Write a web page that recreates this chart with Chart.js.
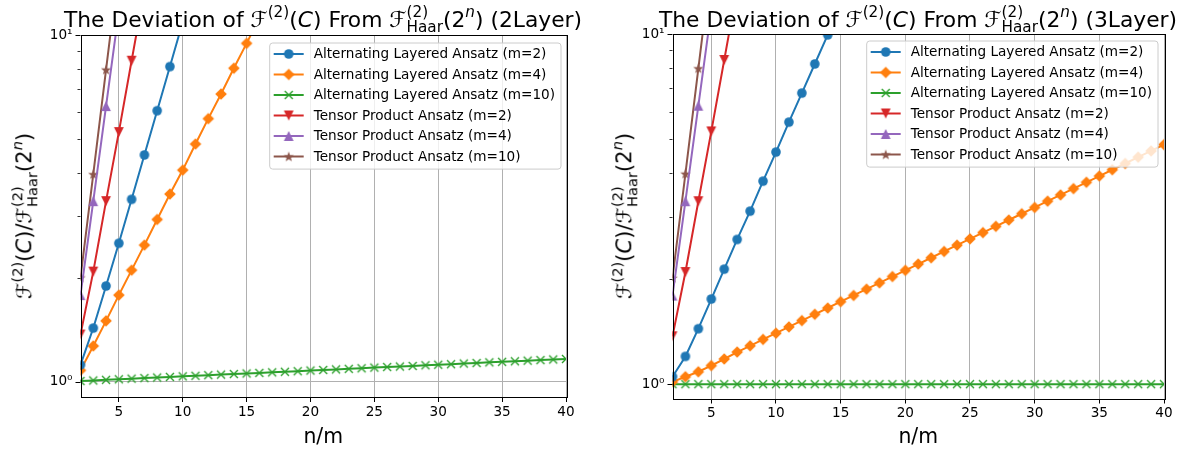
<!DOCTYPE html>
<html>
<head>
<meta charset="utf-8">
<script src="https://cdn.jsdelivr.net/npm/chart.js@4.4.1/dist/chart.umd.min.js"></script>
<style>
  html, body { margin:0; padding:0; background:#fff; }
  body { width:1193px; height:455px; position:relative; overflow:hidden; font-family:"DejaVu Sans", sans-serif; color:#000; }
  canvas { position:absolute; top:0; }
  .ttl { position:absolute; top:5px; transform:translateX(-50%); font-size:21.8px; line-height:24px; white-space:nowrap; }
  .ylab { position:absolute; transform:translate(-50%,-50%) rotate(-90deg); font-size:21px; line-height:24px; white-space:nowrap; }
  .sp { font-size:0.7em; position:relative; top:-0.64em; }
  .st { display:inline-flex; flex-direction:column; font-size:0.7em; line-height:1; vertical-align:0.64em; }
  i { font-style:oblique; }
</style>
</head>
<body>
<canvas id="c1" width="596" height="455" style="left:0px;width:596px;height:455px"></canvas>
<canvas id="c2" width="596" height="455" style="left:597px;width:596px;height:455px"></canvas>

<div class="ttl" style="left:323px">The Deviation of ℱ<span class="sp">(2)</span>(<i>C</i>) From ℱ<span class="st"><span>(2)</span><span>Haar</span></span>(2<span class="sp"><i>n</i></span>) (2Layer)</div>
<div class="ttl" style="left:918px">The Deviation of ℱ<span class="sp">(2)</span>(<i>C</i>) From ℱ<span class="st"><span>(2)</span><span>Haar</span></span>(2<span class="sp"><i>n</i></span>) (3Layer)</div>

<div class="ylab" style="left:25px;top:216px">ℱ<span class="sp">(2)</span>(<i>C</i>)/ℱ<span class="st"><span>(2)</span><span>Haar</span></span>(2<span class="sp"><i>n</i></span>)</div>
<div class="ylab" style="left:625px;top:216px">ℱ<span class="sp">(2)</span>(<i>C</i>)/ℱ<span class="st"><span>(2)</span><span>Haar</span></span>(2<span class="sp"><i>n</i></span>)</div>

<script>
// ---------------- data ----------------
const nValues = [2,3,4,5,6,7,8,9,10,11,12,13,14,15,16,17,18,19,20,21,22,23,24,25,26,27,28,29,30,31,32,33,34,35,36,37,38,39,40];
const xTickValues = [5,10,15,20,25,30,35,40];
const yTickValues = [1,2,3,4,5,6,7,8,9,10];
const yTickLabels = { 1: "10⁰", 10: "10¹" };
const xAxisTitle = "n/m";

const seriesLabels = [
  "Alternating Layered Ansatz (m=2)",
  "Alternating Layered Ansatz (m=4)",
  "Alternating Layered Ansatz (m=10)",
  "Tensor Product Ansatz (m=2)",
  "Tensor Product Ansatz (m=4)",
  "Tensor Product Ansatz (m=10)"
];

// 2 Layer
const alt2L_m2  = [1.12, 1.43, 1.89, 2.51, 3.36, 4.51, 6.05, 8.11, 10.9];
const alt2L_m4  = [1.08, 1.27, 1.50, 1.78, 2.10, 2.48, 2.94, 3.48, 4.08, 4.85, 5.74, 6.76, 8.02, 9.46, 11.2];
const alt2L_m10 = [1.006, 1.010, 1.014, 1.018, 1.022, 1.026, 1.030, 1.034, 1.038, 1.042, 1.046, 1.050, 1.054,
                   1.058, 1.062, 1.066, 1.070, 1.074, 1.079, 1.083, 1.087, 1.091, 1.095, 1.100, 1.104, 1.108,
                   1.112, 1.117, 1.121, 1.125, 1.130, 1.134, 1.139, 1.143, 1.147, 1.152, 1.156, 1.161, 1.165];
const tp2L_m2   = [1.37, 2.08, 3.32, 5.25, 8.43, 13.5];
const tp2L_m4   = [1.78, 3.32, 6.24, 11.7];
const tp2L_m10  = [2.00, 3.97, 7.95, 15.8];

// 3 Layer
const alt3L_m2  = [1.05, 1.20, 1.44, 1.75, 2.13, 2.59, 3.12, 3.80, 4.60, 5.60, 6.78, 8.21, 9.94, 12.0];
const alt3L_m4  = [1.015, 1.050, 1.085, 1.130, 1.180, 1.235, 1.287, 1.342, 1.398, 1.457, 1.519, 1.583, 1.650,
                   1.720, 1.792, 1.868, 1.947, 2.029, 2.114, 2.203, 2.296, 2.393, 2.494, 2.600, 2.709, 2.823,
                   2.943, 3.067, 3.196, 3.331, 3.471, 3.618, 3.771, 3.930, 4.096, 4.268, 4.449, 4.636, 4.832];
const alt3L_m10 = [1.000, 1.000, 1.000, 1.000, 1.000, 1.000, 1.000, 1.000, 1.000, 1.000, 1.000, 1.000, 1.000,
                   1.000, 1.000, 1.000, 1.000, 1.000, 1.000, 1.000, 1.000, 1.000, 1.000, 1.000, 1.000, 1.000,
                   1.000, 1.000, 1.000, 1.000, 1.000, 1.000, 1.000, 1.000, 1.000, 1.000, 1.000, 1.000, 1.000];
const tp3L_m2   = [1.37, 2.09, 3.33, 5.27, 8.43, 13.5];
const tp3L_m4   = [1.79, 3.33, 6.24, 11.7];
const tp3L_m10  = [2.01, 3.99, 7.98, 15.9];

// ---------------- styling ----------------
const colors = ["#1f77b4", "#ff7f0e", "#2ca02c", "#d62728", "#9467bd", "#8c564b"];
const markerTypes = ["circle", "diamond", "x", "tri_down", "tri_up", "star"];
const FONT = "DejaVu Sans";

function makeMarker(type, color) {
  const s = 16, c = s / 2;
  const cv = document.createElement("canvas");
  cv.width = s; cv.height = s;
  const g = cv.getContext("2d");
  g.fillStyle = color; g.strokeStyle = color; g.lineWidth = 1;
  g.beginPath();
  if (type === "circle") {
    g.arc(c, c, 4.8, 0, Math.PI * 2);
    g.fill();
  } else if (type === "diamond") {
    const r = 5.8;
    g.moveTo(c, c - r); g.lineTo(c + r, c); g.lineTo(c, c + r); g.lineTo(c - r, c); g.closePath();
    g.fill();
  } else if (type === "x") {
    const r = 4;
    g.lineWidth = 1.4;
    g.moveTo(c - r, c - r); g.lineTo(c + r, c + r);
    g.moveTo(c + r, c - r); g.lineTo(c - r, c + r);
    g.stroke();
  } else if (type === "tri_down") {
    const r = 4.9;
    g.moveTo(c - r, c - r); g.lineTo(c + r, c - r); g.lineTo(c, c + r); g.closePath();
    g.fill();
  } else if (type === "tri_up") {
    const r = 4.9;
    g.moveTo(c - r, c + r); g.lineTo(c + r, c + r); g.lineTo(c, c - r); g.closePath();
    g.fill();
  } else if (type === "star") {
    const R = 5.4, r0 = 2.2;
    for (let k = 0; k < 10; k++) {
      const ang = -Math.PI / 2 + k * Math.PI / 5;
      const rr = (k % 2 === 0) ? R : r0;
      const px = c + rr * Math.cos(ang), py = c + 0.5 + rr * Math.sin(ang);
      if (k === 0) g.moveTo(px, py); else g.lineTo(px, py);
    }
    g.closePath();
    g.fill();
  }
  return cv;
}
const markers = markerTypes.map((t, k) => makeMarker(t, colors[k]));

const framePlugin = {
  id: "frame",
  afterDatasetsDraw(chart) {
    const { ctx, chartArea: a, scales } = chart;
    ctx.save();
    ctx.strokeStyle = "#000";
    for (const v of yTickValues) {
      const py = Math.round(scales.y.getPixelForValue(v)) + 0.5;
      const major = (v === 1 || v === 10);
      ctx.lineWidth = major ? 1 : 0.8;
      const len = major ? 5 : 3;
      ctx.beginPath(); ctx.moveTo(a.left - len, py); ctx.lineTo(a.left, py); ctx.stroke();
    }
    ctx.lineWidth = 1;
    ctx.strokeStyle = "#000";
    ctx.strokeRect(Math.round(a.left) + 0.5, Math.round(a.top) + 0.5, Math.round(a.right - a.left), Math.round(a.bottom - a.top));
    ctx.restore();
  }
};

const legendPlugin = {
  id: "boxLegend",
  afterDraw(chart, args, opts) {
    const { ctx, chartArea: a } = chart;
    ctx.save();
    ctx.font = "13.6px '" + FONT + "'";
    let maxW = 0;
    chart.data.datasets.forEach(d => { maxW = Math.max(maxW, ctx.measureText(d.label).width); });
    const rowH = 20.5;
    const w = 44 + maxW + 6;
    const h = 11 + rowH * (chart.data.datasets.length - 1) + 12.6;
    const x0 = a.right - opts.right - w;
    const y0 = a.top + opts.top;
    const rad = 3;
    ctx.beginPath();
    ctx.moveTo(x0 + rad, y0);
    ctx.lineTo(x0 + w - rad, y0); ctx.quadraticCurveTo(x0 + w, y0, x0 + w, y0 + rad);
    ctx.lineTo(x0 + w, y0 + h - rad); ctx.quadraticCurveTo(x0 + w, y0 + h, x0 + w - rad, y0 + h);
    ctx.lineTo(x0 + rad, y0 + h); ctx.quadraticCurveTo(x0, y0 + h, x0, y0 + h - rad);
    ctx.lineTo(x0, y0 + rad); ctx.quadraticCurveTo(x0, y0, x0 + rad, y0);
    ctx.closePath();
    ctx.fillStyle = "rgba(255,255,255,0.8)";
    ctx.fill();
    ctx.strokeStyle = "#cccccc"; ctx.lineWidth = 1;
    ctx.stroke();
    chart.data.datasets.forEach((d, k) => {
      const cy = y0 + 11 + k * rowH;
      ctx.strokeStyle = d.borderColor; ctx.lineWidth = 2;
      ctx.beginPath(); ctx.moveTo(x0 + 4, cy); ctx.lineTo(x0 + 34, cy); ctx.stroke();
      const m = d.pointStyle;
      ctx.drawImage(m, x0 + 19 - m.width / 2, cy - m.height / 2);
      ctx.fillStyle = "#000";
      ctx.textBaseline = "middle";
      ctx.textAlign = "left";
      ctx.fillText(d.label, x0 + 44, cy + 0.5);
    });
    ctx.restore();
  }
};

function buildChart(id, series, cfg) {
  const datasets = series.map((vals, k) => ({
    label: seriesLabels[k],
    data: vals.map((v, i) => ({ x: nValues[i], y: v })),
    borderColor: colors[k],
    backgroundColor: colors[k],
    borderWidth: 2,
    pointStyle: markers[k],
    pointRadius: 5,
    pointHoverRadius: 5,
    tension: 0,
    fill: false,
    clip: 0
  }));
  return new Chart(document.getElementById(id), {
    type: "line",
    data: { datasets },
    options: {
      responsive: false,
      animation: false,
      events: [],
      layout: { padding: { left: 0, right: cfg.padRight, top: cfg.padTop, bottom: 0 } },
      plugins: {
        legend: { display: false },
        title: { display: false },
        tooltip: { enabled: false },
        boxLegend: { right: cfg.legRight, top: cfg.legTop }
      },
      scales: {
        x: {
          type: "linear", min: 2, max: 40,
          afterBuildTicks: ax => { ax.ticks = xTickValues.map(v => ({ value: v })); },
          afterFit: s => { s.height = cfg.xH; },
          grid: { color: "#b0b0b0", lineWidth: 1, drawTicks: true, tickLength: 5, tickColor: "#000", tickWidth: 1 },
          border: { display: false },
          ticks: { font: { family: FONT, size: 13.6 }, color: "#000", padding: 2, maxRotation: 0, autoSkip: false },
          title: { display: true, text: xAxisTitle, font: { family: FONT, size: 20.4 }, color: "#000", padding: { top: 0, bottom: 5 } }
        },
        y: {
          type: "logarithmic", min: cfg.yMin, max: 10,
          afterBuildTicks: ax => { ax.ticks = yTickValues.map(v => ({ value: v })); },
          afterFit: s => { s.width = cfg.yW; },
          grid: { color: c => (c.tick && c.tick.value === 1) ? "#b0b0b0" : "rgba(0,0,0,0)", lineWidth: 1, drawTicks: false },
          border: { display: false },
          ticks: {
            callback: v => (yTickLabels[v] !== undefined ? yTickLabels[v] : ""),
            font: { family: FONT, size: 13.6 }, color: "#000", padding: 8, autoSkip: false
          }
        }
      }
    },
    plugins: [framePlugin, legendPlugin]
  });
}

buildChart("c1", [alt2L_m2, alt2L_m4, alt2L_m10, tp2L_m2, tp2L_m4, tp2L_m10],
  { padRight: 30, padTop: 35, xH: 58, yW: 80.5, yMin: 0.905, legRight: 5, legTop: 8 });
buildChart("c2", [alt3L_m2, alt3L_m4, alt3L_m10, tp3L_m2, tp3L_m4, tp3L_m10],
  { padRight: 29, padTop: 34, xH: 56.5, yW: 75.5, yMin: 0.91, legRight: 6, legTop: 7 });
</script>
</body>
</html>
